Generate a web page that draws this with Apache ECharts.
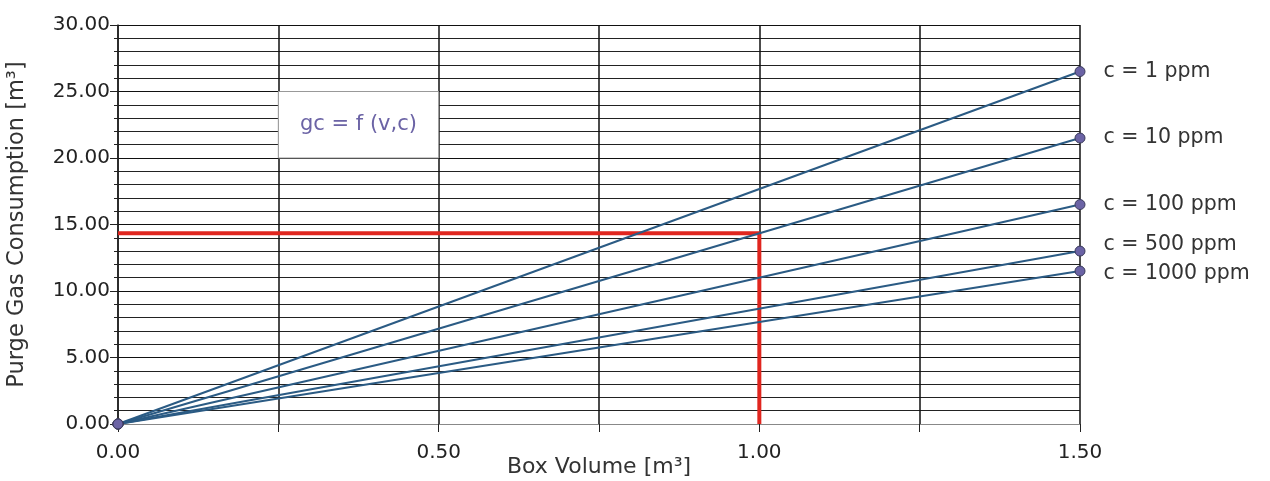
<!DOCTYPE html>
<html>
<head>
<meta charset="utf-8">
<script src="https://cdn.jsdelivr.net/npm/echarts@6/dist/echarts.min.js"></script>
<style>html,body{margin:0;padding:0;background:#fff}#c{width:1270px;height:481px}</style>
</head>
<body>
<div id="c"></div>
<script>
const seriesNames = ['c = 1 ppm', 'c = 10 ppm', 'c = 100 ppm', 'c = 500 ppm', 'c = 1000 ppm'];
const startX = 0, endX = 1.5;
const startValues = [0, 0, 0, 0, 0];
const endValues = [26.5, 21.5, 16.5, 13.0, 11.5];
const labelOffsets = [[0, 0], [0, 0], [0, 0], [0, -6], [0, 3]];
const redPath = [[0, 14.35], [1.0, 14.35], [1.0, 0]];
const boxText = 'gc = f (v,c)';
const boxArea = [[0.25, 25], [0.5, 20]];

const font = 'DejaVu Sans, Verdana, sans-serif';
const chart = echarts.init(document.getElementById('c'));

const lineSeries = seriesNames.map((name, i) => ({
  name: name,
  type: 'line',
  data: [
    [startX, startValues[i]],
    { value: [endX, endValues[i]], label: { show: true, formatter: name, position: 'right', distance: 18, offset: labelOffsets[i], color: '#333', fontSize: 20.5, fontFamily: font } }
  ],
  symbol: 'circle',
  symbolSize: 10,
  showSymbol: true,
  lineStyle: { color: '#2b5b84', width: 2 },
  itemStyle: { color: '#6b63a5', borderColor: '#3a3a5a', borderWidth: 1 },
  z: 3,
  animation: false
}));

chart.setOption({
  animation: false,
  grid: { left: 118, right: 190, top: 25, bottom: 57, containLabel: false, outerBoundsMode: 'none' },
  xAxis: {
    type: 'value', min: 0, max: 1.5, interval: 0.5,
    name: 'Box Volume [m³]', nameLocation: 'middle', nameGap: 32, nameMoveOverlap: false,
    nameTextStyle: { fontSize: 22, color: '#333', fontFamily: font },
    axisLine: { show: true, lineStyle: { color: '#888', width: 1 } },
    axisTick: { show: true, length: 8, lineStyle: { color: '#222' } },
    minorTick: { show: true, splitNumber: 2, length: 8, lineStyle: { color: '#222' } },
    axisLabel: { margin: 19, fontSize: 20, color: '#222', fontFamily: font, formatter: v => v.toFixed(2) },
    splitLine: { show: true, lineStyle: { color: '#111', width: 1.5 } },
    minorSplitLine: { show: true, lineStyle: { color: '#111', width: 1.5 } }
  },
  yAxis: {
    type: 'value', min: 0, max: 30, interval: 5,
    name: 'Purge Gas Consumption [m³]', nameLocation: 'middle', nameGap: 89, nameRotate: 90, nameMoveOverlap: false,
    nameTextStyle: { fontSize: 22.5, color: '#333', fontFamily: font },
    axisLine: { show: true, lineStyle: { color: '#222', width: 1.5 } },
    axisTick: { show: true, length: 8, lineStyle: { color: '#222' } },
    minorTick: { show: true, splitNumber: 5, length: 4, lineStyle: { color: '#222' } },
    axisLabel: { margin: 8, fontSize: 20, color: '#222', fontFamily: font, formatter: v => v.toFixed(2) },
    splitLine: { show: true, lineStyle: { color: '#111', width: 1.2 } },
    minorSplitLine: { show: true, lineStyle: { color: '#222', width: 1 } }
  },
  series: [
    {
      type: 'line', data: [], silent: true,
      markArea: {
        silent: true,
        itemStyle: { color: '#fff', borderColor: '#999', borderWidth: 1, opacity: 1 },
        label: { show: true, position: 'inside', formatter: boxText, color: '#6b63a5', fontSize: 21, fontFamily: font },
        data: [[{ coord: boxArea[0] }, { coord: boxArea[1] }]]
      },
      z: 2
    },
    {
      type: 'line', data: redPath, symbol: 'none',
      lineStyle: { color: '#e0261f', width: 4 }, z: 2
    },
    ...lineSeries
  ]
});
</script>
</body>
</html>
